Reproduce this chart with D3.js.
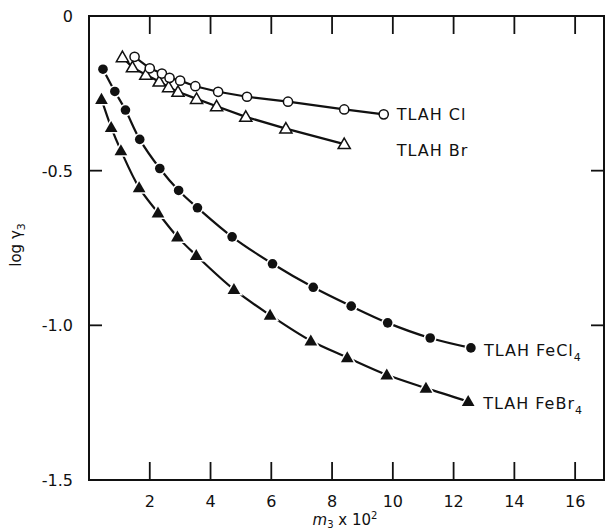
<!DOCTYPE html>
<html><head><meta charset="utf-8">
<script src="https://cdn.jsdelivr.net/npm/d3@7"></script>
<style>
html,body{margin:0;padding:0;background:#fff;}
text{font-family:"DejaVu Sans","Liberation Sans",sans-serif;fill:#111;}
</style></head>
<body>
<svg id="chart" width="606" height="531"></svg>
<script>
// ---- data ----
const xTicks = [2,4,6,8,10,12,14,16];
const yTicks = [0,-0.5,-1.0,-1.5];
const yTickLabels = ["0","-0.5","-1.0","-1.5"];

const clX = [1.5,2.0,2.4,2.65,3.0,3.5,4.25,5.2,6.55,8.4,9.7];
const clY = [-0.132,-0.169,-0.186,-0.200,-0.209,-0.227,-0.245,-0.261,-0.277,-0.302,-0.318];

const brX = [1.1,1.43,1.87,2.31,2.62,2.93,3.54,4.2,5.16,6.48,8.4];
const brY = [-0.133,-0.166,-0.190,-0.212,-0.230,-0.245,-0.268,-0.292,-0.326,-0.364,-0.414];

const fecl4X = [0.46,0.85,1.20,1.67,2.33,2.95,3.57,4.71,6.04,7.38,8.63,9.83,11.23,12.57];
const fecl4Y = [-0.172,-0.244,-0.304,-0.399,-0.493,-0.564,-0.620,-0.714,-0.801,-0.877,-0.938,-0.992,-1.041,-1.073];

const febr4X = [0.41,0.73,1.05,1.65,2.27,2.91,3.53,4.77,5.96,7.30,8.50,9.80,11.09,12.48];
const febr4Y = [-0.269,-0.360,-0.435,-0.555,-0.636,-0.714,-0.774,-0.884,-0.967,-1.050,-1.104,-1.160,-1.203,-1.246];

const seriesNames = ["TLAH Cl","TLAH Br","TLAH FeCl","TLAH FeBr"];

// ---- layout ----
const L = 89, R = 604, T = 16, B = 480;
const svg = d3.select("#chart");
const x = d3.scaleLinear().domain([0,16.95]).range([L,R]);
const y = d3.scaleLinear().domain([-1.5,0]).range([B,T]);

// frame
svg.append("rect").attr("x",L).attr("y",T).attr("width",R-L).attr("height",B-T)
  .attr("fill","none").attr("stroke","#111").attr("stroke-width",2);

// x ticks (inside, bottom & top)
const gx = svg.append("g");
xTicks.forEach(v=>{
  gx.append("line").attr("x1",x(v)).attr("x2",x(v)).attr("y1",B).attr("y2",B-18)
    .attr("stroke","#111").attr("stroke-width",1.8);
  gx.append("line").attr("x1",x(v)).attr("x2",x(v)).attr("y1",T).attr("y2",T+18)
    .attr("stroke","#111").attr("stroke-width",1.8);
  gx.append("text").attr("x",x(v)).attr("y",B+27).attr("text-anchor","middle")
    .attr("font-size",16).text(v);
});
// y ticks
yTicks.forEach((v,i)=>{
  svg.append("line").attr("x1",L).attr("x2",L+13).attr("y1",y(v)).attr("y2",y(v))
    .attr("stroke","#111").attr("stroke-width",1.8);
  svg.append("line").attr("x1",R).attr("x2",R-13).attr("y1",y(v)).attr("y2",y(v))
    .attr("stroke","#111").attr("stroke-width",1.8);
  svg.append("text").attr("x",L-16).attr("y",y(v)+6).attr("text-anchor","end")
    .attr("font-size",16).text(yTickLabels[i]);
});

// axis titles
const xt = svg.append("text").attr("x",345).attr("y",525).attr("text-anchor","middle").attr("font-size",15);
xt.append("tspan").attr("font-style","italic").text("m");
xt.append("tspan").attr("font-size",10).attr("dy",3).text("3");
xt.append("tspan").attr("dy",-3).text(" x 10");
xt.append("tspan").attr("font-size",10).attr("dy",-6).text("2");

const yt = svg.append("text").attr("transform","translate(21,245) rotate(-90)")
  .attr("text-anchor","middle").attr("font-size",15);
yt.append("tspan").text("log γ");
yt.append("tspan").attr("font-size",11).attr("dy",4).text("3");

// ---- series ----
function pts(xs,ys){ return xs.map((v,i)=>[v,ys[i]]); }
const lineLin = d3.line().x(d=>x(d[0])).y(d=>y(d[1]));
const lineSmooth = d3.line().x(d=>x(d[0])).y(d=>y(d[1])).curve(d3.curveCatmullRom.alpha(0.5));

const cl = pts(clX,clY), br = pts(brX,brY), fc = pts(fecl4X,fecl4Y), fb = pts(febr4X,febr4Y);

[[br,lineLin],[cl,lineLin],[fc,lineSmooth],[fb,lineSmooth]].forEach(([d,ln])=>{
  svg.append("path").attr("d",ln(d)).attr("fill","none").attr("stroke","#111").attr("stroke-width",2.2);
});

const tri = d3.symbol().type(d3.symbolTriangle);
// open triangles
svg.append("g").selectAll("path").data(br).join("path")
  .attr("transform",d=>`translate(${x(d[0])},${y(d[1])+1})`)
  .attr("d",tri.size(64)()).attr("fill","#fff").attr("stroke","#111").attr("stroke-width",1.5);
// open circles
svg.append("g").selectAll("circle").data(cl).join("circle")
  .attr("cx",d=>x(d[0])).attr("cy",d=>y(d[1])).attr("r",4.6)
  .attr("fill","#fff").attr("stroke","#111").attr("stroke-width",1.5);
// filled circles with white halo
svg.append("g").selectAll("circle").data(fc).join("circle")
  .attr("cx",d=>x(d[0])).attr("cy",d=>y(d[1])).attr("r",4.8)
  .attr("fill","#111").attr("stroke","#fff").attr("stroke-width",3).attr("paint-order","stroke");
// filled triangles with white halo
svg.append("g").selectAll("path").data(fb).join("path")
  .attr("transform",d=>`translate(${x(d[0])},${y(d[1])+1})`)
  .attr("d",tri.size(70)()).attr("fill","#111").attr("stroke","#fff").attr("stroke-width",3).attr("paint-order","stroke");

// ---- series labels ----
function lab(px,py,main,sub){
  const t = svg.append("text").attr("x",px).attr("y",py).attr("font-size",16).attr("letter-spacing",1);
  t.append("tspan").text(main);
  if(sub){ t.append("tspan").attr("font-size",11).attr("dy",5).text(sub); }
}
const lastCl = cl[cl.length-1], lastFc = fc[fc.length-1], lastFb = fb[fb.length-1];
lab(x(lastCl[0])+13, y(lastCl[1])+6, seriesNames[0]);
lab(x(lastCl[0])+13, y(lastCl[1])+42, seriesNames[1]);
lab(x(lastFc[0])+13, y(lastFc[1])+8, seriesNames[2], "4");
lab(x(lastFb[0])+15, y(lastFb[1])+8, seriesNames[3], "4");
</script>
</body></html>
